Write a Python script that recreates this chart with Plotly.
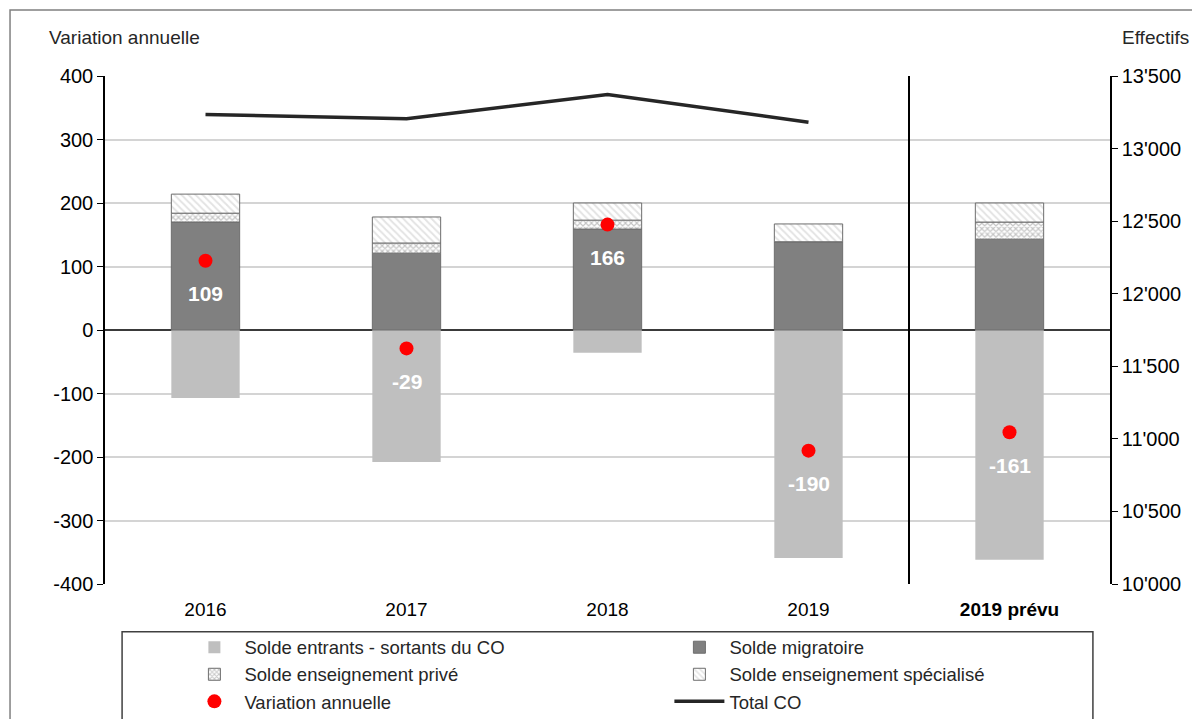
import plotly.graph_objects as go

# data
categories = ['2016', '2017', '2018', '2019', '2019 prévu']
tick_labels = ['2016', '2017', '2018', '2019', '<b>2019 prévu</b>']
solde_entrants = [-107, -208, -36, -359, -362]
solde_migratoire = [170, 121, 159, 139, 143]
solde_prive = [14, 16, 14, 0, 27]
solde_specialise = [30, 41, 27, 28, 30]
variation = [109, -29, 166, -190, -161]
total_years = ['2016', '2017', '2018', '2019']
total_co = [13235, 13206, 13372, 13182]
left_ticks = [-400, -300, -200, -100, 0, 100, 200, 300, 400]

font_name = 'Liberation Sans, Arial, sans-serif'
txt = '#262626'
outline = dict(color='#6e6e6e', width=1)

fig = go.Figure()
fig.add_trace(go.Bar(x=categories, y=solde_entrants, name='Solde entrants - sortants du CO',
                     marker=dict(color='#bfbfbf', line=dict(width=0))))
fig.add_trace(go.Bar(x=categories, y=solde_migratoire, name='Solde migratoire',
                     marker=dict(color='#808080', line=outline)))
fig.add_trace(go.Bar(x=categories, y=solde_prive, name='Solde enseignement privé',
                     marker=dict(color='white', line=outline,
                                 pattern=dict(shape='x', fgcolor='#8c8c8c', bgcolor='white',
                                              size=4, solidity=0.5))))
fig.add_trace(go.Bar(x=categories, y=solde_specialise, name='Solde enseignement spécialisé',
                     marker=dict(color='white', line=outline,
                                 pattern=dict(shape='\\', fgcolor='#c8c8c8', bgcolor='white',
                                              size=5, solidity=0.4))))
fig.add_trace(go.Scatter(x=categories, y=variation, name='Variation annuelle', mode='markers',
                         marker=dict(color='#ff0000', size=14)))
fig.add_trace(go.Scatter(x=total_years, y=total_co, name='Total CO', mode='lines', yaxis='y2',
                         line=dict(color='#262626', width=3.5)))

# white bold labels below the red dots (x by category index)
for i, v in enumerate(variation):
    fig.add_annotation(x=i, y=v, text='<b>%d</b>' % v, showarrow=False, yshift=-33,
                       font=dict(family=font_name, size=21, color='white'))

# vertical separator before forecast
fig.add_shape(type='line', xref='x', yref='y', x0=3.5, x1=3.5, y0=-400, y1=400,
              line=dict(color='black', width=2))
# legend box
fig.add_shape(type='rect', xref='paper', yref='paper', x0=0.017, x1=0.983, y0=-0.094, y1=-0.4,
              line=dict(color='#404040', width=1.5))
# outer frame
fig.add_shape(type='rect', xref='paper', yref='paper', x0=-0.0945, x1=1.1, y0=1.13, y1=-0.4,
              line=dict(color='#808080', width=1.5), layer='below')

fig.add_annotation(xref='paper', yref='paper', x=-0.0577, y=1.075, xanchor='left', yanchor='middle',
                   text='Variation annuelle', showarrow=False, font=dict(family=font_name, size=19, color=txt))
fig.add_annotation(xref='paper', yref='paper', x=1.01, y=1.075, xanchor='left', yanchor='middle',
                   text='Effectifs', showarrow=False, font=dict(family=font_name, size=19, color=txt))

# page body adds an 8px offset, so the figure is 8px smaller
fig.update_layout(
    width=1192, height=711,
    margin=dict(l=97, r=90, t=68, b=135, autoexpand=False),
    paper_bgcolor='white', plot_bgcolor='white',
    barmode='relative', bargap=0.66,
    separators=".'",
    font=dict(family=font_name, size=19, color=txt),
    showlegend=True,
    legend=dict(orientation='h', x=0.079, xanchor='left', y=-0.088, yanchor='top',
                entrywidth=420, entrywidthmode='pixels', traceorder='normal',
                font=dict(size=18.5, color=txt), bgcolor='rgba(0,0,0,0)', borderwidth=0,
                itemwidth=50, tracegroupgap=0),
    xaxis=dict(type='category', categoryorder='array', categoryarray=categories,
               tickvals=categories, ticktext=tick_labels, range=[-0.5, 4.5],
               showline=False, ticks='', showgrid=False, ticklabelstandoff=12,
               tickfont=dict(size=19, color='black')),
    yaxis=dict(range=[-400, 400], tickvals=left_ticks, ticktext=[str(t) for t in left_ticks],
               showgrid=True, gridcolor='#d4d4d4', gridwidth=1.5,
               zeroline=True, zerolinecolor='#3a3a3a', zerolinewidth=2,
               showline=True, linecolor='black', linewidth=1.5, ticks='outside', ticklen=6,
               tickcolor='black', tickfont=dict(size=20, color='black')),
    yaxis2=dict(range=[10000, 13500], dtick=500, overlaying='y', side='right', tickformat=',',
                showgrid=False, zeroline=False, showline=True, linecolor='black', linewidth=1.5,
                ticks='outside', ticklen=6, tickcolor='black', tickfont=dict(size=20, color='black')),
)

fig.write_html('out.html')
